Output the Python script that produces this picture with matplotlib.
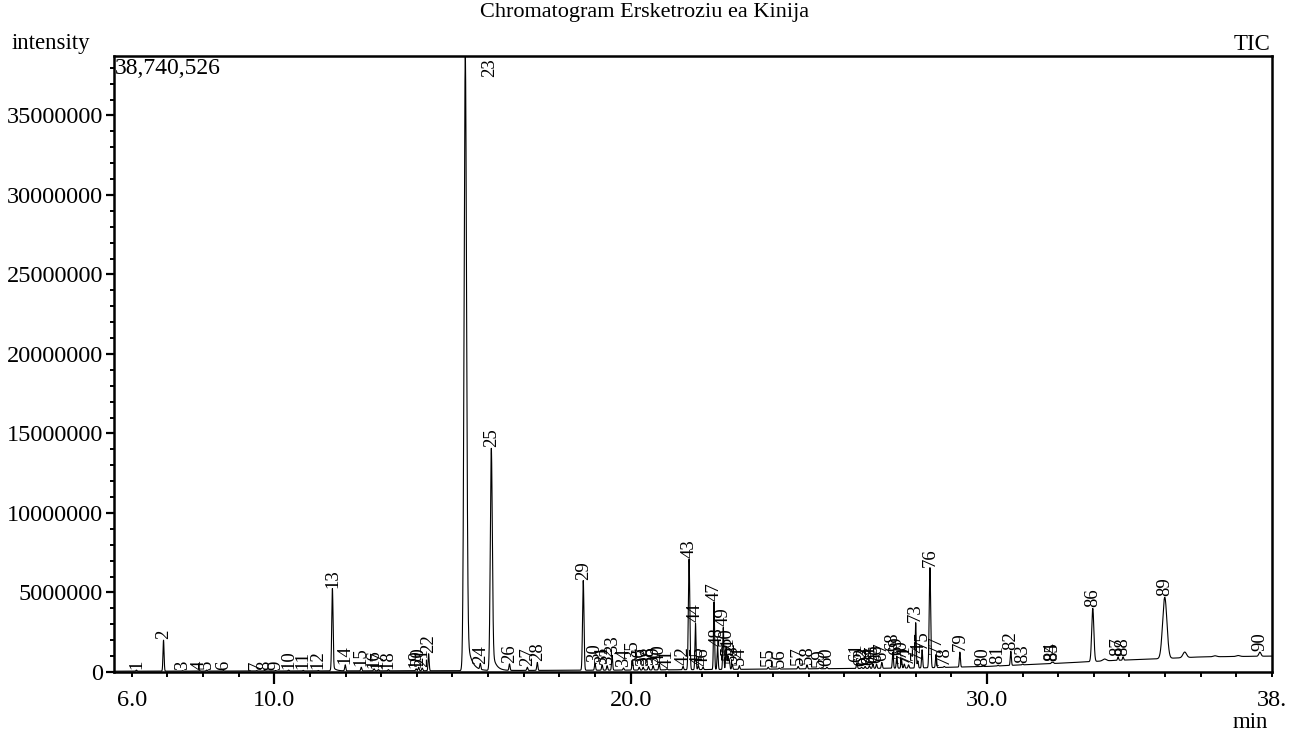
import numpy as np
import matplotlib
matplotlib.use("Agg")
import matplotlib.pyplot as plt
from matplotlib.ticker import MultipleLocator, FixedLocator, FuncFormatter

plt.rcParams['font.family'] = ['Liberation Serif', 'DejaVu Serif']

# peak table (retention time in min, apex intensity)
peak_ids = list(range(1, 91))
peak_rt = [6.13, 6.89, 7.42, 7.90, 8.10, 8.57, 9.50, 9.72, 10.03, 10.40,
           10.81, 11.23, 11.63, 11.99, 12.44, 12.80, 12.92, 13.20, 13.98, 14.05,
           14.15, 14.33, 15.36, 15.78, 16.09, 16.60, 17.10, 17.38, 18.67, 19.00,
           19.20, 19.34, 19.48, 19.80, 20.05, 20.24, 20.35, 20.50, 20.63, 20.80,
           21.02, 21.47, 21.64, 21.82, 21.90, 22.03, 22.34, 22.44, 22.60, 22.68,
           22.73, 22.77, 22.85, 23.05, 23.86, 24.17, 24.70, 24.95, 25.30, 25.51,
           26.35, 26.48, 26.58, 26.70, 26.80, 26.90, 27.05, 27.36, 27.47, 27.60,
           27.68, 27.80, 28.00, 28.06, 28.18, 28.40, 28.57, 28.80, 29.24, 29.89,
           30.31, 30.67, 31.00, 31.82, 31.86, 32.97, 33.68, 33.82, 34.99, 37.66]
peak_height = [0.12e6, 2.0e6, 0.08e6, 0.06e6, 0.12e6, 0.08e6, 0.06e6, 0.08e6, 0.06e6, 0.12e6,
               0.10e6, 0.10e6, 5.25e6, 0.45e6, 0.30e6, 0.20e6, 0.15e6, 0.15e6, 0.20e6, 0.30e6,
               0.25e6, 1.15e6, 38740526, 0.45e6, 14.06e6, 0.50e6, 0.30e6, 0.60e6, 5.75e6, 0.55e6,
               0.45e6, 0.40e6, 1.05e6, 0.25e6, 0.75e6, 0.30e6, 0.30e6, 0.35e6, 0.40e6, 0.50e6,
               0.20e6, 0.35e6, 7.10e6, 3.06e6, 0.40e6, 0.30e6, 4.40e6, 1.60e6, 2.80e6, 1.60e6,
               1.00e6, 0.70e6, 0.50e6, 0.40e6, 0.30e6, 0.25e6, 0.35e6, 0.45e6, 0.25e6, 0.30e6,
               0.55e6, 0.30e6, 0.35e6, 0.40e6, 0.50e6, 0.50e6, 0.60e6, 1.25e6, 1.00e6, 0.80e6,
               0.50e6, 0.45e6, 3.10e6, 0.70e6, 1.40e6, 6.56e6, 1.10e6, 0.35e6, 1.25e6, 0.33e6,
               0.42e6, 1.30e6, 0.50e6, 0.62e6, 0.62e6, 4.00e6, 0.95e6, 0.95e6, 4.70e6, 1.25e6]

# wider peaks
wide_ids = [13, 23, 25, 29, 43, 76, 86, 89, 90]
wide_sigma = [0.018, 0.035, 0.028, 0.02, 0.02, 0.02, 0.03, 0.06, 0.03]

# tailing after the big peaks
tail_ids = [13, 23, 25]
tail_amp = [0.3e6, 3.0e6, 1.5e6]
tail_tau = [0.08, 0.12, 0.10]

# unlabelled bumps
extra_rt = [33.30, 35.55, 36.40, 37.05]
extra_amp = [0.12e6, 0.35e6, 0.06e6, 0.06e6]

# drifting baseline
base_rt = [5.5, 15.0, 17.0, 20.0, 25.0, 28.0, 30.0, 32.0, 33.5, 35.0, 36.0, 38.0]
base_lvl = [0.05e6, 0.08e6, 0.10e6, 0.12e6, 0.20e6, 0.25e6, 0.35e6, 0.55e6, 0.72e6,
            0.85e6, 0.95e6, 1.0e6]

ymax = 38740526

t = np.arange(5.5, 38.0005, 0.002)
sig = np.interp(t, base_rt, base_lvl)
for pid, rt, h in zip(peak_ids, peak_rt, peak_height):
    s = wide_sigma[wide_ids.index(pid)] if pid in wide_ids else 0.015
    amp = h - np.interp(rt, base_rt, base_lvl)
    if pid in tail_ids:
        amp -= tail_amp[tail_ids.index(pid)]
    sig += max(amp, 0.03e6) * np.exp(-0.5 * ((t - rt) / s) ** 2)
for pid, a, tau in zip(tail_ids, tail_amp, tail_tau):
    rt = peak_rt[peak_ids.index(pid)]
    d = t - rt
    sig += np.where(d >= 0, a * np.exp(-np.clip(d, 0, None) / tau),
                    a * np.exp(-0.5 * (d / 0.03) ** 2))
for rt, a in zip(extra_rt, extra_amp):
    sig += a * np.exp(-0.5 * ((t - rt) / 0.05) ** 2)

fig = plt.figure(figsize=(12.91, 7.35), dpi=100)
ax = fig.add_axes([114 / 1291, 1 - 672 / 735, (1272 - 114) / 1291, (672 - 56) / 735])

ax.plot(t, sig, color='black', lw=0.8)
ax.set_xlim(5.5, 38.0)
ax.set_ylim(0, ymax)

for pid, rt, h in zip(peak_ids, peak_rt, peak_height):
    if h >= ymax * 0.99:
        ax.annotate(str(pid), (rt, ymax), xytext=(24, -2), textcoords='offset pixels',
                    rotation=90, ha='center', va='top', fontsize=13.5)
    else:
        ax.annotate(str(pid), (rt, h), xytext=(0, 1), textcoords='offset pixels',
                    rotation=90, ha='center', va='bottom', fontsize=13.5)

# axes styling
for sp in ax.spines.values():
    sp.set_linewidth(1.8)

ax.xaxis.set_major_locator(FixedLocator([10, 20, 30]))
ax.xaxis.set_major_formatter(FuncFormatter(lambda v, p: f"{v:.1f}"))
ax.xaxis.set_minor_locator(FixedLocator([v for v in range(6, 39) if v not in (10, 20, 30)]))
ax.xaxis.set_minor_formatter(FuncFormatter(
    lambda v, p: "6.0" if abs(v - 6) < 1e-6 else ("38." if abs(v - 38) < 1e-6 else "")))
ax.tick_params(axis='x', which='major', length=8.6, width=1.6, pad=4, labelsize=17.5)
ax.tick_params(axis='x', which='minor', length=3.6, width=1.4, pad=9, labelsize=17.5)

ax.yaxis.set_major_locator(MultipleLocator(5e6))
ax.yaxis.set_minor_locator(MultipleLocator(1e6))
ax.yaxis.set_major_formatter(FuncFormatter(lambda v, p: f"{int(round(v))}"))
ax.tick_params(axis='y', which='major', length=5.8, width=1.6, pad=2, labelsize=17.5)
ax.tick_params(axis='y', which='minor', length=3.0, width=1.4)

ax.text(0.001, 0.997, "38,740,526", transform=ax.transAxes, ha='left', va='top', fontsize=17)

fig.text(645 / 1291, 1 - 12 / 735, "Chromatogram Ersketroziu ea Kinija",
         ha='center', va='center', fontsize=16)
fig.text(12 / 1291, 1 - 44 / 735, "intensity", ha='left', va='center', fontsize=16.5)
fig.text(1270 / 1291, 1 - 44 / 735, "TIC", ha='right', va='center', fontsize=16.5)
fig.text(1268 / 1291, 1 - 722 / 735, "min", ha='right', va='center', fontsize=16.5)

fig.savefig("out.png", dpi=100)
